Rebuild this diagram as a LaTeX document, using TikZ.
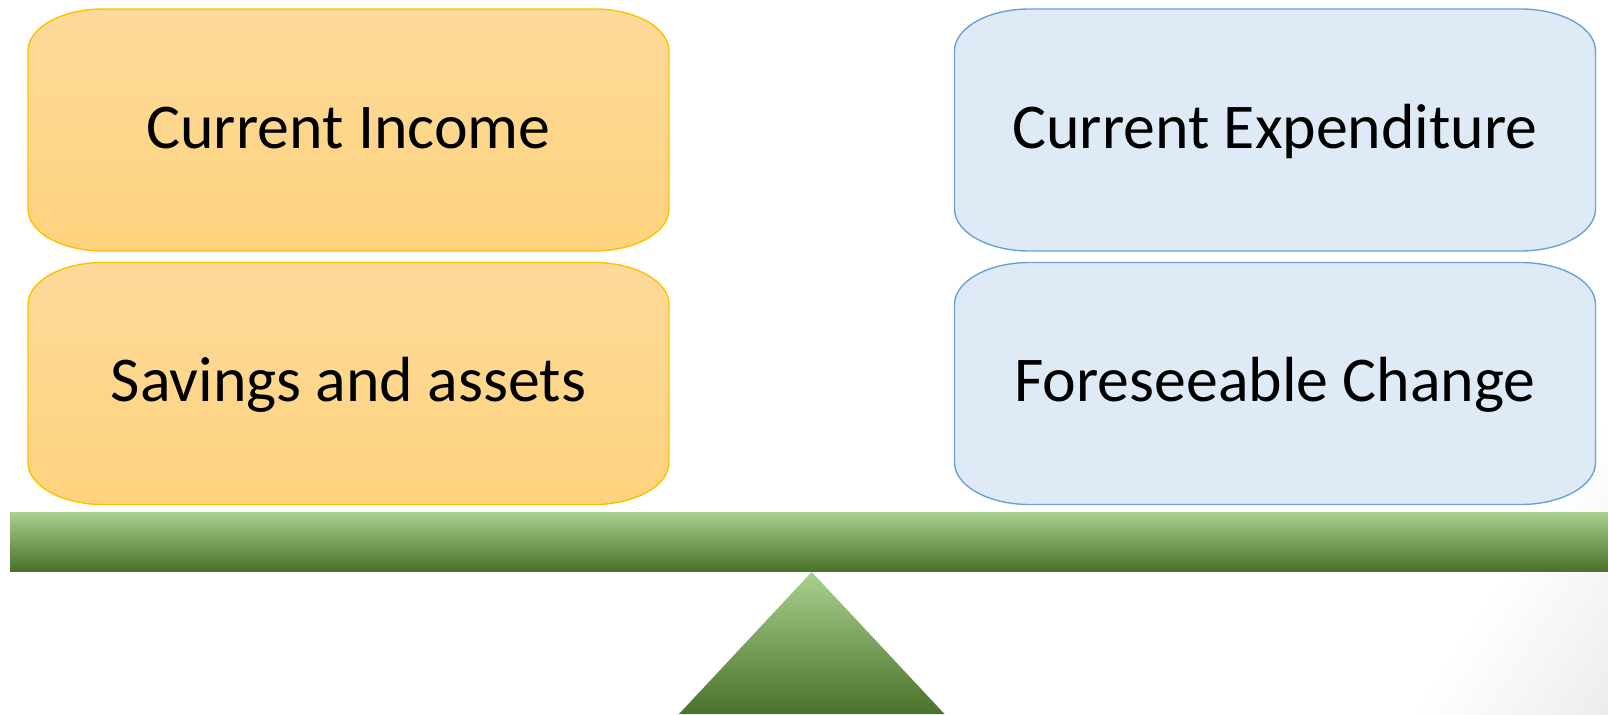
\documentclass[tikz,border=0pt]{standalone}
\usepackage{fontspec}
\setmainfont{Carlito}
\usetikzlibrary{backgrounds}
\definecolor{orTop}{RGB}{253,218,154}
\definecolor{orBot}{RGB}{254,211,126}
\definecolor{orLine}{RGB}{255,192,0}
\definecolor{blFill}{RGB}{222,235,247}
\definecolor{blLine}{RGB}{110,160,216}
\definecolor{gLight}{RGB}{169,209,142}
\definecolor{gMid}{RGB}{114,174,72}
\definecolor{gDark}{RGB}{74,114,42}
\definecolor{bgGray}{RGB}{236,236,236}
\tikzset{
  boxnode/.style={draw=none, inner sep=0pt, outer sep=0pt,
    minimum width=320.5pt, minimum height=121pt,
    text height=22pt, text depth=4pt, align=center,
    font=\fontsize{31.9}{38}\selectfont, text=black},
  incomebox/.style={draw=orLine, line width=0.7pt, top color=orTop, bottom color=orBot},
  expbox/.style={draw=blLine, line width=0.7pt, fill=blFill},
  greenbar/.style={top color=gLight, middle color=gMid, bottom color=gDark},
}
\newcommand\ellbox[2]{%
  \path[#2] ([xshift=37.5pt]#1.north west) -- ([xshift=-37.5pt]#1.north east)
    arc[start angle=90,end angle=0,x radius=37.5pt,y radius=21pt]
    -- ([yshift=21pt]#1.south east)
    arc[start angle=0,end angle=-90,x radius=37.5pt,y radius=21pt]
    -- ([xshift=37.5pt]#1.south west)
    arc[start angle=-90,end angle=-180,x radius=37.5pt,y radius=21pt]
    -- ([yshift=-21pt]#1.north west)
    arc[start angle=180,end angle=90,x radius=37.5pt,y radius=21pt]
    -- cycle;}
\begin{document}
\begin{tikzpicture}[x=0.5pt,y=0.5pt]
\useasboundingbox (0,0) rectangle (1608,714);
\node[boxnode] (income)  at (348.5,584)  {Current Income};
\node[boxnode] (savings) at (348.5,330.5) {Savings and assets};
\node[boxnode] (expend)  at (1275,584)   {Current Expenditure};
\node[boxnode] (change)  at (1275,330.5) {Foreseeable Change};
\begin{pgfonlayer}{background}
  \begin{scope}
    \clip (0,0) rectangle (1608,714);
    \begin{scope}[shift={(1413,1)}, rotate=-33.3]
      \foreach \i in {0,...,40}{
        \pgfmathsetmacro\p{\i*2.5}
        \fill[bgGray!\p!white] ({\i*4.1},-900) rectangle ({\i*4.1+4.6},900);
      }
      \fill[bgGray] (168,-900) rectangle (900,900);
    \end{scope}
  \end{scope}
  \ellbox{income}{incomebox}
  \ellbox{savings}{incomebox}
  \ellbox{expend}{expbox}
  \ellbox{change}{expbox}
\end{pgfonlayer}
\path[greenbar] (10,143) rectangle (1608,202);
\path[greenbar] (811.7,142) -- (944.5,0) -- (679,0) -- cycle;
\end{tikzpicture}
\end{document}
